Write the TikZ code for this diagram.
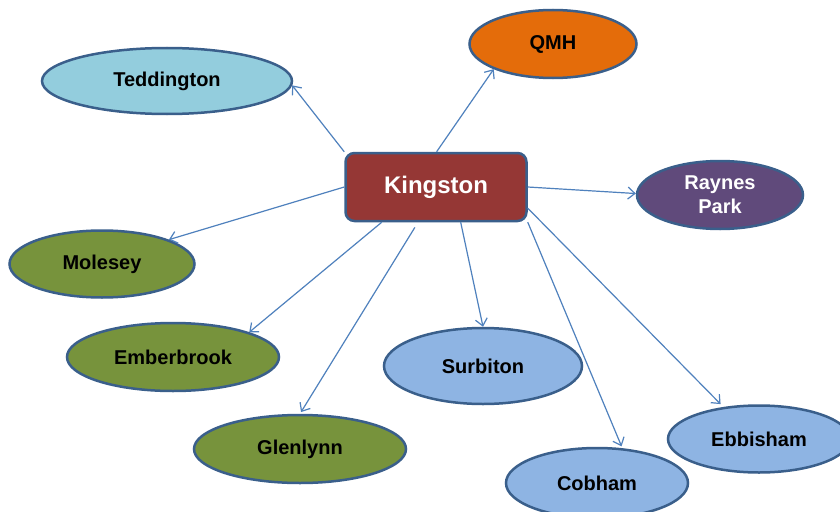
\documentclass[tikz,border=0pt]{standalone}
\usepackage{fontspec}
\setmainfont{Liberation Sans}
\usetikzlibrary{shapes.geometric,arrows.meta}
\definecolor{bordc}{HTML}{3A5F8B}
\definecolor{linec}{HTML}{4F81BD}
\definecolor{tedd}{HTML}{93CDDD}
\definecolor{qmhc}{HTML}{E46C0A}
\definecolor{kingc}{HTML}{953735}
\definecolor{raync}{HTML}{604A7B}
\definecolor{greenc}{HTML}{77933C}
\definecolor{bluec}{HTML}{8EB4E3}
\tikzset{
  place/.style={ellipse, draw=bordc, line width=2.5pt, inner sep=0pt,
    font=\fontsize{20}{24}\selectfont\bfseries, align=center},
  hub/.style={rectangle, rounded corners=9pt, draw=bordc, line width=2.5pt,
    fill=kingc, text=white, minimum width=181pt, minimum height=68pt,
    font=\fontsize{24}{28}\selectfont\bfseries},
  link/.style={draw=linec, line width=1.2pt,
    -{Straight Barb[length=7pt,width=12pt,line width=1.2pt]}}
}
\begin{document}
\begin{tikzpicture}[x=1pt,y=-1pt]
\useasboundingbox (0,0) rectangle (840,511);
\clip (0,0) rectangle (840,511);
\fill[white] (0,0) rectangle (840,511);
\node[hub] (K) at (436,187) {Kingston};
\node[place, fill=tedd, minimum width=250pt, minimum height=66pt] (T) at (167,81) {Teddington};
\node[place, fill=qmhc, minimum width=167pt, minimum height=68pt] (Q) at (553,44) {QMH};
\node[place, fill=raync, text=white, minimum width=166pt, minimum height=68pt] (R) at (720,195) {Raynes\\Park};
\node[place, fill=greenc, minimum width=185pt, minimum height=67pt] (M) at (102,264) {Molesey};
\node[place, fill=greenc, minimum width=212pt, minimum height=68pt] (E) at (173,357) {Emberbrook};
\node[place, fill=greenc, minimum width=212pt, minimum height=68pt] (G) at (300,449) {Glenlynn};
\node[place, fill=bluec, minimum width=198pt, minimum height=76pt] (S) at (483,366) {Surbiton};
\node[place, fill=bluec, minimum width=182pt, minimum height=70pt] (C) at (597,483) {Cobham};
\node[place, fill=bluec, minimum width=182pt, minimum height=67pt] (B) at (759,439) {Ebbisham};

\draw[link] (K.159) -- (T.-2);
\draw[link] (K.89) -- (Q.203);
\draw[link] (K.east) -- (R.179);
\draw[link] (K.west) -- (M.20);
\draw[link] (K.213) -- (E.18);
\draw[link, shorten <=6pt, shorten >=2pt] (K.243) -- (G.north);
\draw[link] (K.305) -- (S.north);
\draw[link, shorten >=2pt] (K.-21) -- (C.54);
\draw[link, shorten >=4pt] (K.-13) -- (B.138);
\end{tikzpicture}
\end{document}
